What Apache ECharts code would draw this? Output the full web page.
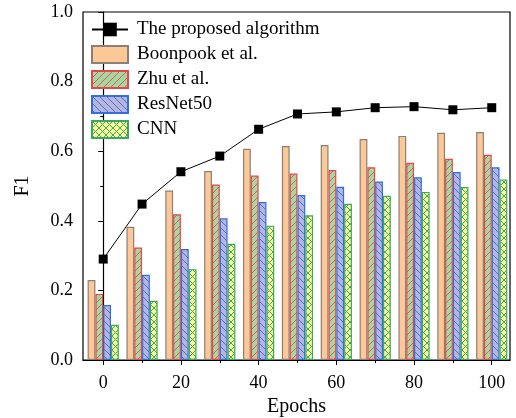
<!DOCTYPE html>
<html>
<head>
<meta charset="utf-8">
<script src="https://cdn.jsdelivr.net/npm/echarts@6/dist/echarts.min.js"></script>
<style>
  html, body { margin: 0; padding: 0; background: #fff; }
  #chart { width: 516px; height: 418px; }
</style>
</head>
<body>
<div id="chart"></div>
<script>
// data
var epochs = [0, 10, 20, 30, 40, 50, 60, 70, 80, 90, 100]
var proposed = [0.290, 0.448, 0.541, 0.586, 0.663, 0.707, 0.713, 0.725, 0.728, 0.719, 0.725]
var boonpook = [0.230, 0.383, 0.487, 0.543, 0.607, 0.615, 0.618, 0.635, 0.644, 0.653, 0.655]
var zhu = [0.190, 0.323, 0.419, 0.504, 0.530, 0.536, 0.546, 0.554, 0.567, 0.578, 0.590]
var resnet = [0.158, 0.245, 0.319, 0.407, 0.454, 0.474, 0.498, 0.513, 0.525, 0.540, 0.554]
var cnn = [0.101, 0.170, 0.261, 0.334, 0.386, 0.416, 0.449, 0.472, 0.483, 0.497, 0.519]
var majorTicks = [0, 20, 40, 60, 80, 100]
var minorTicks = [10, 30, 50, 70, 90]

var FONT = '"Liberation Serif", "Times New Roman", serif'

function pairs(ys) {
  return epochs.map(function (x, i) { return [x, ys[i]] })
}

// hatch tiles
function hatch(bg, fg, kind) {
  var s = 7
  var c = document.createElement('canvas')
  c.width = s; c.height = s
  var g = c.getContext('2d')
  g.fillStyle = bg
  g.fillRect(0, 0, s, s)
  g.strokeStyle = fg
  g.lineWidth = 1
  g.beginPath()
  if (kind === 'fwd' || kind === 'cross') {
    g.moveTo(-1, s + 1); g.lineTo(s + 1, -1)
  }
  if (kind === 'back' || kind === 'cross') {
    g.moveTo(-1, -1); g.lineTo(s + 1, s + 1)
  }
  g.stroke()
  return { image: c, repeat: 'repeat' }
}

var chart = echarts.init(document.getElementById('chart'))

function barSeries(name, ys, fill, border) {
  return {
    name: name,
    type: 'bar',
    xAxisIndex: 0,
    data: pairs(ys),
    barWidth: 7.8,
    barGap: '0%',
    itemStyle: { color: fill, borderColor: border, borderWidth: 1.2 }
  }
}

chart.setOption({
  animation: false,
  backgroundColor: '#fff',
  grid: {
    left: 83, right: 6, top: 12, bottom: 58,
    outerBoundsMode: 'none',
    show: true, borderColor: '#000', borderWidth: 1.2
  },
  legend: {
    orient: 'vertical',
    left: 86, top: 15,
    itemWidth: 36, itemHeight: 17, itemGap: 6,
    textStyle: { fontFamily: FONT, fontSize: 19, color: '#000', lineHeight: 18, padding: [0, 0, 0, 4] },
    data: [
      { name: 'The proposed algorithm' },
      { name: 'Boonpook et al.', icon: 'rect' },
      { name: 'Zhu et al.', icon: 'rect' },
      { name: 'ResNet50', icon: 'rect' },
      { name: 'CNN', icon: 'rect' }
    ]
  },
  xAxis: [{
    type: 'value',
    min: -5.2, max: 104.7,
    name: 'Epochs',
    nameLocation: 'middle',
    nameGap: 30,
    nameTextStyle: { fontFamily: FONT, fontSize: 20, color: '#000' },
    axisLine: { lineStyle: { color: '#000', width: 1.2 } },
    axisTick: { customValues: majorTicks, length: 5, lineStyle: { color: '#000' } },
    axisLabel: { customValues: majorTicks, margin: 14, fontFamily: FONT, fontSize: 18, color: '#000' },
    splitLine: { show: false }
  }, {
    type: 'value',
    min: -5.2, max: 104.7,
    position: 'bottom',
    axisLine: { show: false },
    axisTick: { customValues: minorTicks, length: 3, lineStyle: { color: '#000' } },
    axisLabel: { show: false },
    splitLine: { show: false }
  }],
  yAxis: {
    type: 'value',
    min: 0, max: 1, interval: 0.2,
    name: 'F1',
    nameLocation: 'middle',
    nameGap: 50,
    nameTextStyle: { fontFamily: FONT, fontSize: 20, color: '#000' },
    axisLine: { show: true, lineStyle: { color: '#000', width: 1.2 } },
    axisTick: { show: true, length: 5, lineStyle: { color: '#000' } },
    minorTick: { show: true, splitNumber: 2, length: 3, lineStyle: { color: '#000' } },
    axisLabel: {
      margin: 10, fontFamily: FONT, fontSize: 18, color: '#000',
      formatter: function (v) { return v.toFixed(1) }
    },
    splitLine: { show: false }
  },
  series: [
    {
      name: 'The proposed algorithm',
      type: 'line',
      xAxisIndex: 0,
      data: pairs(proposed),
      symbol: 'rect',
      symbolSize: 9,
      z: 5,
      lineStyle: { color: '#000', width: 1 },
      itemStyle: { color: '#000' }
    },
    barSeries('Boonpook et al.', boonpook, '#fcc896', '#8a8078'),
    barSeries('Zhu et al.', zhu, hatch('#a3d8a0', '#e8575a', 'fwd'), '#e8474a'),
    barSeries('ResNet50', resnet, hatch('#b9b4da', '#3a78e0', 'back'), '#2f6fe0'),
    barSeries('CNN', cnn, hatch('#fbfa98', '#3daa60', 'cross'), '#3aa860')
  ]
})
</script>
</body>
</html>
